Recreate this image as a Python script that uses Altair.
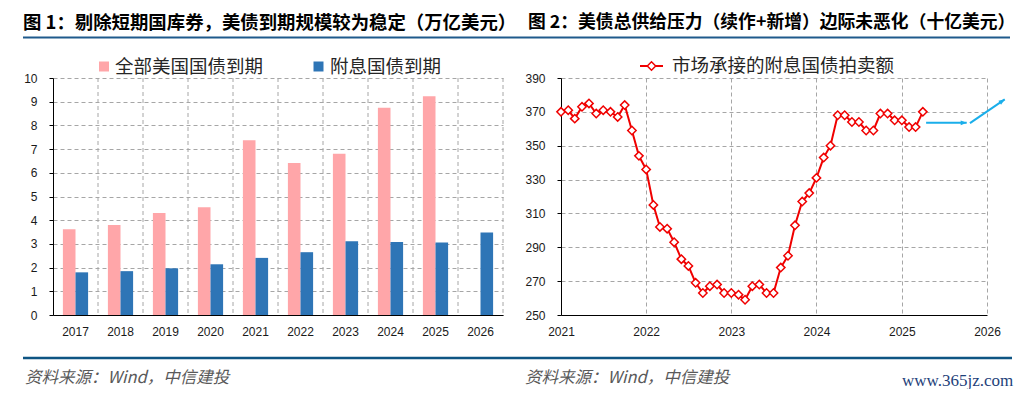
import altair as alt
import pandas as pd

# ---------------- Left panel data (万亿美元) ----------------
years = ["2017", "2018", "2019", "2020", "2021", "2022", "2023", "2024", "2025", "2026"]
all_treasury_maturity = [3.62, 3.80, 4.30, 4.55, 7.37, 6.41, 6.80, 8.75, 9.23, None]
coupon_treasury_maturity = [1.80, 1.85, 1.97, 2.14, 2.41, 2.65, 3.11, 3.08, 3.06, 3.48]
left_series = ["全部美国国债到期", "附息国债到期"]
left_colors = ["#FFA6A9", "#2E75B6"]
left_ticks = [0, 1, 2, 3, 4, 5, 6, 7, 8, 9, 10]

# ---------------- Right panel data (十亿美元) ----------------
auction_months = pd.date_range("2021-01-01", "2025-04-01", freq="MS")
auction_values = [
    370, 371, 366, 373, 375, 369, 371, 370, 367, 374, 359, 344,   # 2021
    336, 315, 302, 301, 293, 283, 279, 269, 263, 267, 268, 263,   # 2022
    263, 262, 259, 267, 268, 263, 263, 278, 285, 303, 317, 322,   # 2023
    331, 343, 350, 368, 368, 364, 364, 359, 359, 369, 369, 365,   # 2024
    365, 361, 361, 370,                                           # 2025
]
right_series = "市场承接的附息国债拍卖额"
right_ticks = [250, 270, 290, 310, 330, 350, 370, 390]
right_year_ticks = [2021, 2022, 2023, 2024, 2025, 2026]
arrow_start = ["2025-04-15T00:00:00", "2025-10-20T00:00:00"]
arrow_end = ["2025-10-06T00:00:00", "2026-03-18T00:00:00"]
arrow_start_value = [363.5, 363.3]
arrow_end_value = [363.5, 377.4]
arrow_angle = [0, 326]

title_left = "图 1：剔除短期国库券，美债到期规模较为稳定（万亿美元）"
title_right = "图 2：美债总供给压力（续作+新增）边际未恶化（十亿美元）"
source_text = "资料来源：Wind，中信建投"
watermark = "www.365jz.com"

CJK = "Noto Sans CJK SC"
LAT = "Liberation Sans"
GRID = "#A6A6A6"
RED = "#F00000"
ARROW = "#1AAEEA"
NAVY = "#1F5A8C"

W_L, W_R, H = 450, 426, 237


def one():
    return pd.DataFrame({"d": [0]})


def label(text, x, y, size=12, color="#000000", weight="normal", font=CJK, style="normal"):
    return alt.Chart(pd.DataFrame({"t": [text]})).mark_text(
        align="left", baseline="middle", fontSize=size, color=color,
        fontWeight=weight, font=font, fontStyle=style,
    ).encode(x=alt.value(x), y=alt.value(y), text="t:N")


def hline(x1, x2, y, color, width, opacity=1.0):
    return alt.Chart(one()).mark_rule(color=color, strokeWidth=width, opacity=opacity).encode(
        x=alt.value(x1), x2=alt.value(x2), y=alt.value(y)
    )


# ---------------- Left chart ----------------
left_df = pd.DataFrame({
    "year": years * 2,
    "series": [left_series[0]] * len(years) + [left_series[1]] * len(years),
    "value": all_treasury_maturity + coupon_treasury_maturity,
}).dropna()

x_left = alt.X(
    "year:N", sort=years,
    scale=alt.Scale(domain=years, paddingInner=0.44, paddingOuter=0.22),
    axis=alt.Axis(title=None, labelAngle=0, ticks=False, grid=False, labelPadding=11,
                  domainColor="black", domainWidth=1),
)

vgrid = alt.Chart(pd.DataFrame({"year": years})).mark_rule(
    color=GRID, strokeDash=[4, 3], strokeWidth=1, xOffset=22.5
).encode(x=x_left)

bars = alt.Chart(left_df).mark_bar().encode(
    x=x_left,
    xOffset=alt.XOffset("series:N", sort=left_series,
                        scale=alt.Scale(domain=left_series, paddingInner=0, paddingOuter=0)),
    y=alt.Y("value:Q", scale=alt.Scale(domain=[0, 10], nice=False),
            axis=alt.Axis(title=None, values=left_ticks, grid=True, gridDash=[4, 3], gridColor=GRID,
                          tickSize=4, labelPadding=12, domainColor="black", tickColor="black",
                          labelOverlap=False)),
    color=alt.Color("series:N", scale=alt.Scale(domain=left_series, range=left_colors), legend=None),
)

leg_sq1 = alt.Chart(one()).mark_square(size=100, color=left_colors[0], opacity=1).encode(
    x=alt.value(51), y=alt.value(-11.5))
leg_sq2 = alt.Chart(one()).mark_square(size=100, color=left_colors[1], opacity=1).encode(
    x=alt.value(265.5), y=alt.value(-11.5))

left = alt.layer(
    vgrid, bars,
    leg_sq1, label(left_series[0], 62, -11.5, size=18.5, color="#262626"),
    leg_sq2, label(left_series[1], 277, -11.5, size=18.5, color="#262626"),
    label(title_left, -30, -55.5, size=18.4, weight="bold"),
    hline(-30, 957, -40.5, NAVY, 2),
    hline(-30, 959, 280, "#0F5583", 2.5),
    label(source_text, -28, 300, size=16.5, color="#595959", style="italic"),
    hline(-45, -44, -70, "white", 1, opacity=0),
).properties(width=W_L, height=H)

# ---------------- Right chart ----------------
right_df = pd.DataFrame({"month": auction_months, "value": auction_values})
arrow_df = pd.DataFrame({
    "month": pd.to_datetime(arrow_start), "value": arrow_start_value,
    "month_end": pd.to_datetime(arrow_end), "value_end": arrow_end_value,
})
head_df = pd.DataFrame({
    "month": pd.to_datetime(arrow_end), "value": arrow_end_value, "ang": arrow_angle,
})

x_right = alt.X(
    "month:T",
    scale=alt.Scale(domain=[alt.DateTime(year=2021, month=1, date=1),
                            alt.DateTime(year=2026, month=1, date=1)]),
    axis=alt.Axis(title=None, values=[alt.DateTime(year=y, month=1, date=1) for y in right_year_ticks],
                  format="%Y", ticks=False, grid=True, gridDash=[4, 3], gridColor=GRID,
                  labelPadding=11, labelFlush=False, labelOverlap=False,
                  domainColor="black"),
)
y_right = alt.Y(
    "value:Q", scale=alt.Scale(domain=[250, 390], nice=False, zero=False),
    axis=alt.Axis(title=None, values=right_ticks, grid=True, gridDash=[4, 3], gridColor=GRID,
                  tickSize=4, labelPadding=12, domainColor="black", tickColor="black",
                  labelOverlap=False),
)

line = alt.Chart(right_df).mark_line(color=RED, strokeWidth=2).encode(x=x_right, y=y_right)
pts = alt.Chart(right_df).mark_point(
    shape="diamond", filled=True, fill="white", stroke=RED, strokeWidth=1.5, size=70, opacity=1
).encode(x=x_right, y=y_right)

arrows = alt.Chart(arrow_df).mark_rule(color=ARROW, strokeWidth=2).encode(
    x=x_right, x2="month_end:T", y=y_right, y2="value_end:Q")
heads = alt.Chart(head_df).mark_point(
    shape="M0,0L-2,-0.8L-2,0.8Z", filled=True, color=ARROW, size=36, opacity=1
).encode(x=x_right, y=y_right, angle=alt.Angle("ang:Q", scale=None))

leg_line = hline(79, 102, -12, RED, 2)
leg_pt = alt.Chart(one()).mark_point(
    shape="diamond", filled=True, fill="white", stroke=RED, strokeWidth=1.5, size=70, opacity=1
).encode(x=alt.value(90.5), y=alt.value(-12))

right = alt.layer(
    line, pts, arrows, heads,
    leg_line, leg_pt, label(right_series, 111, -12, size=18.5, color="#262626"),
    label(title_right, -33, -55.5, size=17.8, weight="bold"),
    label(source_text, -36, 300, size=16.5, color="#595959", style="italic"),
    label(watermark, 341, 303, size=17, color="#1E3F7A", font="Liberation Serif"),
).properties(width=W_R, height=H)

chart = alt.hconcat(left, right, spacing=58, bounds="flush", padding=0).configure_view(
    stroke=None
).configure_axis(
    labelFont=LAT, labelFontSize=12, labelColor="#1a1a1a"
)

chart.save("out.html", embed_options={"renderer": "svg", "actions": False})
